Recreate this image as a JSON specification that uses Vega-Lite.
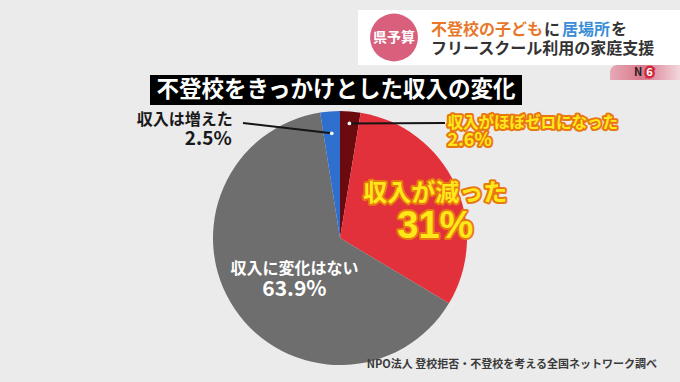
{
  "$schema": "https://vega.github.io/schema/vega-lite/v6.json",
  "background": "#ebebeb",
  "padding": {"left": 0, "top": 10, "right": 0, "bottom": 11},
  "config": {"view": {"stroke": null}, "concat": {"spacing": 0}, "font": "Noto Sans CJK JP"},
  "spacing": 0,
  "vconcat": [
    {
      "spacing": 0,
      "hconcat": [
        {"width": 358, "height": 55, "data": {"values": [{}]}, "mark": {"type": "point", "opacity": 0}, "encoding": {}},
        {
          "width": 72, "height": 55,
          "view": {"fill": "white", "stroke": null},
          "data": {"values": [{}]},
          "layer": [
            {"mark": {"type": "point", "shape": "circle", "filled": true, "size": 2290, "color": "#d9607c", "opacity": 1}, "encoding": {}},
            {"mark": {"type": "text", "text": "県予算", "fill": "white", "fontSize": 14, "fontWeight": "bold"}, "encoding": {}}
          ]
        },
        {
          "width": 250, "height": 55,
          "view": {"fill": "white", "stroke": null},
          "data": {"values": [{}]},
          "layer": [
            {"mark": {"type": "text", "text": "不登校の子ども", "align": "left", "dx": -124, "dy": -8, "fontSize": 16, "fontWeight": "bold", "fill": "#e8772a"}, "encoding": {}},
            {"mark": {"type": "text", "text": "に", "align": "left", "dx": -11, "dy": -8, "fontSize": 16, "fontWeight": "bold", "fill": "#333333"}, "encoding": {}},
            {"mark": {"type": "text", "text": "居場所", "align": "left", "dx": 7, "dy": -8, "fontSize": 16, "fontWeight": "bold", "fill": "#3a8ed6"}, "encoding": {}},
            {"mark": {"type": "text", "text": "を", "align": "left", "dx": 56, "dy": -8, "fontSize": 16, "fontWeight": "bold", "fill": "#333333"}, "encoding": {}},
            {"mark": {"type": "text", "text": "フリースクール利用の家庭支援", "align": "left", "dx": -124, "dy": 11, "fontSize": 16, "fontWeight": "bold", "fill": "#333333"}, "encoding": {}}
          ]
        }
      ]
    },
    {
      "spacing": 0,
      "hconcat": [
        {"width": 150, "height": 40, "data": {"values": [{}]}, "mark": {"type": "point", "opacity": 0}, "encoding": {}},
        {
          "spacing": 0,
          "vconcat": [
            {"width": 372, "height": 10, "data": {"values": [{}]}, "mark": {"type": "point", "opacity": 0, "size": 1}, "encoding": {}},
            {
              "width": 372, "height": 30,
              "view": {"fill": "black", "stroke": null},
              "data": {"values": [{}]},
              "mark": {"type": "text", "text": "不登校をきっかけとした収入の変化", "fill": "white", "fontSize": 22.5, "fontWeight": "bold"},
              "encoding": {}
            }
          ]
        },
        {"width": 88, "height": 40, "data": {"values": [{}]}, "mark": {"type": "point", "opacity": 0}, "encoding": {}},
        {
          "width": 70, "height": 15,
          "data": {"values": [{}]},
          "layer": [
            {"mark": {"type": "rect", "cornerRadiusTopLeft": 14, "color": {"gradient": "linear", "stops": [{"offset": 0, "color": "#e6aab6"}, {"offset": 0.45, "color": "#d9788d"}, {"offset": 1, "color": "#f2d6dc"}]}}, "encoding": {}},
            {"mark": {"type": "text", "text": "N", "dx": -7, "fontSize": 11, "fontWeight": "bold", "fill": "#222222"}, "encoding": {}},
            {"mark": {"type": "text", "text": "6", "dx": 4.5, "fontSize": 11, "fontWeight": "bold", "fill": "#d0283a", "stroke": "#d0283a", "strokeWidth": 5}, "encoding": {}},
            {"mark": {"type": "text", "text": "6", "dx": 4.5, "fontSize": 11, "fontWeight": "bold", "fill": "white"}, "encoding": {}}
          ]
        }
      ]
    },
    {
      "width": 680,
      "height": 266,
      "layer": [
        {
          "data": {"values": [
            {"i": 1, "cat": "収入がほぼゼロになった", "v": 2.6, "pct": "2.6%"},
            {"i": 2, "cat": "収入が減った", "v": 31, "pct": "31%"},
            {"i": 3, "cat": "収入に変化はない", "v": 63.9, "pct": "63.9%"},
            {"i": 4, "cat": "収入は増えた", "v": 2.5, "pct": "2.5%"}
          ]},
          "transform": [
            {"stack": "v", "groupby": [], "sort": [{"field": "i"}], "as": ["s0", "s1"]},
            {"calculate": "(datum.s0 + datum.s1) / 2", "as": "mid"}
          ],
          "layer": [
            {
              "mark": {"type": "arc", "radius": 127},
              "encoding": {
                "theta": {"field": "s0", "type": "quantitative", "scale": {"domain": [0, 100]}, "stack": null},
                "theta2": {"field": "s1"},
                "color": {"field": "cat", "type": "nominal", "legend": null,
                  "scale": {"domain": ["収入がほぼゼロになった", "収入が減った", "収入に変化はない", "収入は増えた"], "range": ["#6b0b0f", "#e3313b", "#6e6e6e", "#2f6fce"]}}
              }
            },
            {
              "transform": [
                {"filter": "datum.v < 5"},
                {"calculate": "2 * PI * datum.mid / 100", "as": "a"},
                {"calculate": "sin(datum.a) > 0 ? 115 : 105", "as": "r"},
                {"calculate": "sin(datum.a) * datum.r", "as": "lx1"},
                {"calculate": "-cos(datum.a) * datum.r", "as": "ly1"},
                {"calculate": "sin(datum.a) > 0 ? 105 : -97", "as": "lx2"},
                {"calculate": "-115", "as": "ly2"}
              ],
              "layer": [
                {
                  "mark": {"type": "rule", "color": "#151515", "strokeWidth": 2},
                  "encoding": {
                    "x": {"field": "lx1", "type": "quantitative", "scale": {"domain": [-340, 340], "nice": false, "zero": false}, "axis": null},
                    "y": {"field": "ly1", "type": "quantitative", "scale": {"domain": [-133, 133], "nice": false, "zero": false, "reverse": true}, "axis": null},
                    "x2": {"field": "lx2"},
                    "y2": {"field": "ly2"}
                  }
                },
                {
                  "mark": {"type": "point", "shape": "circle", "filled": true, "size": 14, "color": "#f4f4f4", "opacity": 1},
                  "encoding": {
                    "x": {"field": "lx1", "type": "quantitative", "axis": null},
                    "y": {"field": "ly1", "type": "quantitative", "axis": null}
                  }
                }
              ]
            },
            {
              "transform": [{"filter": "datum.i == 4"}],
              "mark": {"type": "text", "radius": 118, "align": "right", "dx": -98, "dy": 0, "fontSize": 16, "fontWeight": "bold", "fill": "#1a1a1a"},
              "encoding": {"theta": {"field": "mid", "type": "quantitative", "stack": null}, "text": {"field": "cat"}}
            },
            {
              "transform": [{"filter": "datum.i == 4"}],
              "mark": {"type": "text", "radius": 118, "align": "right", "dx": -99, "dy": 19, "fontSize": 19, "fontWeight": "bold", "fill": "#1a1a1a"},
              "encoding": {"theta": {"field": "mid", "type": "quantitative", "stack": null}, "text": {"field": "pct"}}
            },
            {
              "transform": [{"filter": "datum.i == 1"}],
              "mark": {"type": "text", "radius": 115, "align": "left", "dx": 98, "dy": 0, "fontSize": 15.5, "fontWeight": "bold", "fill": "#e8780f", "stroke": "#e8780f", "strokeWidth": 4, "strokeJoin": "round"},
              "encoding": {"theta": {"field": "mid", "type": "quantitative", "stack": null}, "text": {"field": "cat"}}
            },
            {
              "transform": [{"filter": "datum.i == 1"}],
              "mark": {"type": "text", "radius": 115, "align": "left", "dx": 98, "dy": 0, "fontSize": 15.5, "fontWeight": "bold", "fill": "#ffe81a"},
              "encoding": {"theta": {"field": "mid", "type": "quantitative", "stack": null}, "text": {"field": "cat"}}
            },
            {
              "transform": [{"filter": "datum.i == 1"}],
              "mark": {"type": "text", "radius": 115, "align": "left", "dx": 98, "dy": 18, "fontSize": 18, "fontWeight": "bold", "fill": "#e8780f", "stroke": "#e8780f", "strokeWidth": 4, "strokeJoin": "round"},
              "encoding": {"theta": {"field": "mid", "type": "quantitative", "stack": null}, "text": {"field": "pct"}}
            },
            {
              "transform": [{"filter": "datum.i == 1"}],
              "mark": {"type": "text", "radius": 115, "align": "left", "dx": 98, "dy": 18, "fontSize": 18, "fontWeight": "bold", "fill": "#ffe81a"},
              "encoding": {"theta": {"field": "mid", "type": "quantitative", "stack": null}, "text": {"field": "pct"}}
            },
            {
              "transform": [{"filter": "datum.i == 2"}],
              "mark": {"type": "text", "radius": 105, "dy": 0, "fontSize": 24, "fontWeight": "bold", "fill": "#e8780f", "stroke": "#e8780f", "strokeWidth": 4, "strokeJoin": "round"},
              "encoding": {"theta": {"field": "mid", "type": "quantitative", "stack": null}, "text": {"field": "cat"}}
            },
            {
              "transform": [{"filter": "datum.i == 2"}],
              "mark": {"type": "text", "radius": 105, "dy": 0, "fontSize": 24, "fontWeight": "bold", "fill": "#ffe81a"},
              "encoding": {"theta": {"field": "mid", "type": "quantitative", "stack": null}, "text": {"field": "cat"}}
            },
            {
              "transform": [{"filter": "datum.i == 2"}],
              "mark": {"type": "text", "radius": 105, "dy": 33, "fontSize": 38, "font": "Liberation Sans", "fontWeight": "bold", "fill": "#e8780f", "stroke": "#e8780f", "strokeWidth": 4, "strokeJoin": "round"},
              "encoding": {"theta": {"field": "mid", "type": "quantitative", "stack": null}, "text": {"field": "pct"}}
            },
            {
              "transform": [{"filter": "datum.i == 2"}],
              "mark": {"type": "text", "radius": 105, "dy": 33, "fontSize": 38, "font": "Liberation Sans", "fontWeight": "bold", "fill": "#ffe81a"},
              "encoding": {"theta": {"field": "mid", "type": "quantitative", "stack": null}, "text": {"field": "pct"}}
            },
            {
              "transform": [{"filter": "datum.i == 3"}],
              "mark": {"type": "text", "radius": 55, "dy": 0, "fontSize": 16, "fontWeight": "bold", "fill": "white"},
              "encoding": {"theta": {"field": "mid", "type": "quantitative", "stack": null}, "text": {"field": "cat"}}
            },
            {
              "transform": [{"filter": "datum.i == 3"}],
              "mark": {"type": "text", "radius": 55, "dy": 21, "fontSize": 21, "fontWeight": "bold", "fill": "white"},
              "encoding": {"theta": {"field": "mid", "type": "quantitative", "stack": null}, "text": {"field": "pct"}}
            }
          ]
        },
        {
          "data": {"values": [{"src": "NPO法人 登校拒否・不登校を考える全国ネットワーク調べ"}]},
          "mark": {"type": "text", "align": "right", "dx": 317, "dy": 127, "fontSize": 11, "fontWeight": "bold", "fill": "#3a3a3a"},
          "encoding": {"text": {"field": "src"}}
        }
      ]
    }
  ]
}
